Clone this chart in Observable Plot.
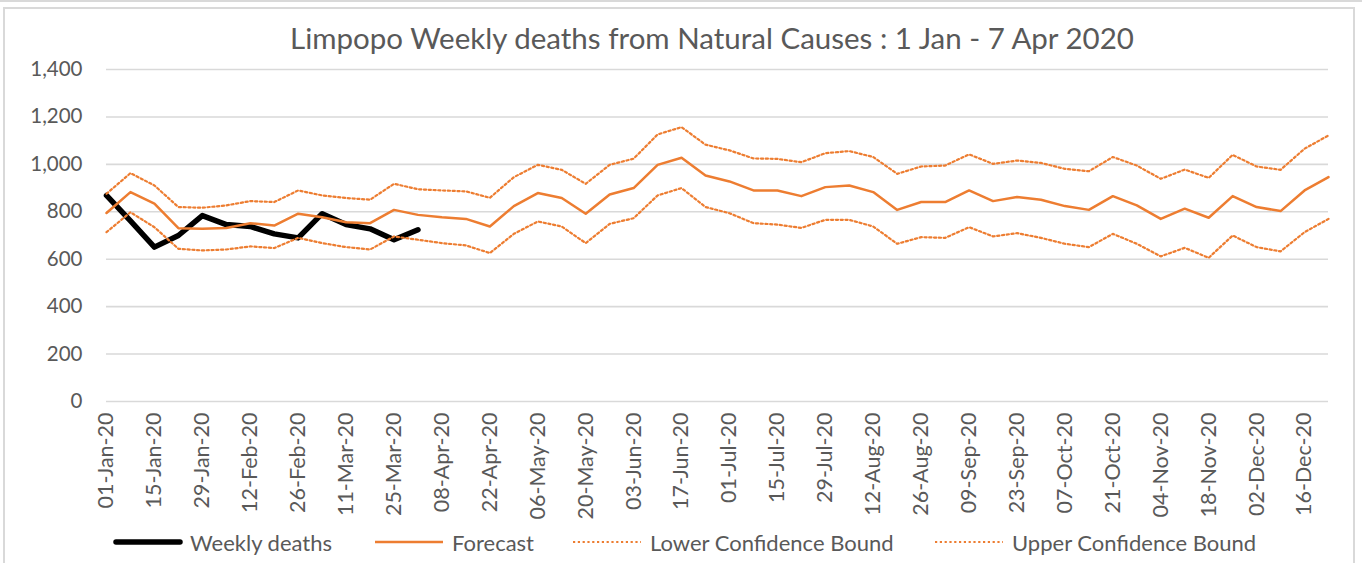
<!DOCTYPE html>
<html>
<head>
<meta charset="utf-8">
<script src="https://cdn.jsdelivr.net/npm/d3@7"></script>
<script src="https://cdn.jsdelivr.net/npm/@observablehq/plot@0.6"></script>
<style>
  html, body { margin: 0; padding: 0; background: #fff; }
  #wrap { position: relative; width: 1362px; height: 563px; overflow: hidden; font-family: Lato, "Open Sans", sans-serif; color: #595959; }
  #topline { position: absolute; left: 0; top: 0; width: 1362px; height: 2px; background: #d9d9d9; }
  #frame { position: absolute; left: 3px; top: 7px; width: 1352px; height: 600px; border: 2px solid #d9d9d9; box-sizing: border-box; }
  #title { position: relative; height: 62px; }
  #title span { position: absolute; left: 712px; top: 23px; transform: translateX(-50%); font-size: 29.5px; white-space: nowrap; line-height: 1; }
  #chart { position: relative; height: 465px; }
  #legend { position: relative; height: 36px; }
  .item { position: absolute; top: 0; height: 30px; display: flex; align-items: center; font-size: 22px; white-space: nowrap; }
  .item svg { margin-right: 7px; }
</style>
</head>
<body>
<div id="wrap">
  <div id="topline"></div>
  <div id="frame"></div>
  <div id="title"><span>Limpopo Weekly deaths from Natural Causes : 1 Jan - 7 Apr 2020</span></div>
  <div id="chart"></div>
  <div id="legend"></div>
</div>
<script>
const weeks = [
  "01-Jan-20","08-Jan-20","15-Jan-20","22-Jan-20","29-Jan-20","05-Feb-20","12-Feb-20","19-Feb-20","26-Feb-20",
  "04-Mar-20","11-Mar-20","18-Mar-20","25-Mar-20","01-Apr-20","08-Apr-20","15-Apr-20","22-Apr-20","29-Apr-20",
  "06-May-20","13-May-20","20-May-20","27-May-20","03-Jun-20","10-Jun-20","17-Jun-20","24-Jun-20","01-Jul-20",
  "08-Jul-20","15-Jul-20","22-Jul-20","29-Jul-20","05-Aug-20","12-Aug-20","19-Aug-20","26-Aug-20","02-Sep-20",
  "09-Sep-20","16-Sep-20","23-Sep-20","30-Sep-20","07-Oct-20","14-Oct-20","21-Oct-20","28-Oct-20","04-Nov-20",
  "11-Nov-20","18-Nov-20","25-Nov-20","02-Dec-20","09-Dec-20","16-Dec-20","23-Dec-20"
];
const weeklyDeaths = [869, 762, 651, 700, 784, 746, 738, 707, 690, 792, 746, 728, 682, 724];
const forecast = [
  795, 883, 834, 731, 728, 732, 752, 742, 792, 777, 756, 752, 808, 787,
  777, 770, 738, 824, 879, 858, 792, 873, 900, 998, 1028, 953, 928, 890,
  890, 866, 904, 911, 883, 808, 841, 841, 890, 845, 862, 851,
  824, 808, 866, 827, 770, 813, 775, 866, 820, 803, 890, 946
];
const lowerBound = [
  714, 798, 735, 644, 637, 641, 654, 647, 690, 668, 651, 641, 696, 682,
  668, 658, 626, 707, 759, 738, 668, 749, 773, 869, 900, 820, 794, 752,
  746, 732, 766, 766, 738, 665, 693, 690, 735, 696, 710, 690,
  665, 651, 707, 665, 612, 648, 606, 700, 651, 633, 714, 770
];
const upperBound = [
  876, 963, 911, 820, 817, 827, 845, 841, 890, 869, 858, 851, 918, 895,
  890, 886, 859, 946, 998, 977, 918, 998, 1024, 1126, 1157, 1083, 1059, 1025,
  1023, 1009, 1047, 1056, 1031, 960, 991, 995, 1042, 1002, 1016, 1006,
  981, 971, 1031, 995, 939, 978, 943, 1040, 991, 977, 1066, 1122
];
const yTicks = [0, 200, 400, 600, 800, 1000, 1200, 1400];
const xTicks = weeks.filter((d, i) => i % 2 === 0);
const seriesNames = ["Weekly deaths", "Forecast", "Lower Confidence Bound", "Upper Confidence Bound"];

const orange = "#ED7D31";
const dots = "2.2,2.6";
const rows = (vals) => vals.map((v, i) => ({week: weeks[i], value: v}));

const plot = Plot.plot({
  width: 1362,
  height: 465,
  marginTop: 7,
  marginBottom: 126,
  marginLeft: 106,
  marginRight: 34,
  style: {fontFamily: "Lato, 'Open Sans', sans-serif", fontSize: "20px", color: "#595959", background: "transparent", overflow: "visible"},
  x: {type: "point", domain: weeks, padding: 0, label: null},
  y: {domain: [0, 1400], label: null},
  marks: [
    Plot.gridY(yTicks, {stroke: "#d9d9d9", strokeOpacity: 1, strokeWidth: 1.6}),
    Plot.axisY({ticks: yTicks, tickSize: 0, tickPadding: 24, tickFormat: d3.format(","), label: null, fontSize: 20.5}),
    Plot.axisX({ticks: xTicks, tickSize: 0, tickPadding: 11, tickRotate: -90, label: null, fontSize: 21.5}),
    Plot.line(rows(weeklyDeaths), {x: "week", y: "value", stroke: "#000", strokeWidth: 5.5, strokeLinejoin: "round", strokeLinecap: "round"}),
    Plot.line(rows(forecast), {x: "week", y: "value", stroke: orange, strokeWidth: 2.5, strokeLinejoin: "round"}),
    Plot.line(rows(lowerBound), {x: "week", y: "value", stroke: orange, strokeWidth: 2.2, strokeDasharray: dots}),
    Plot.line(rows(upperBound), {x: "week", y: "value", stroke: orange, strokeWidth: 2.2, strokeDasharray: dots})
  ]
});
document.getElementById("chart").appendChild(plot);

// legend
const legendItems = [
  {name: seriesNames[0], left: 113, stroke: "#000", width: 5.5, dash: null, cap: "round"},
  {name: seriesNames[1], left: 375, stroke: orange, width: 2.5, dash: null, cap: "butt"},
  {name: seriesNames[2], left: 573, stroke: orange, width: 2.2, dash: dots, cap: "butt"},
  {name: seriesNames[3], left: 935, stroke: orange, width: 2.2, dash: dots, cap: "butt"}
];
const legend = d3.select("#legend");
for (const it of legendItems) {
  const div = legend.append("div").attr("class", "item").style("left", it.left + "px");
  const s = div.append("svg").attr("width", 70).attr("height", 10);
  s.append("line").attr("x1", it.cap === "round" ? 3 : 0).attr("x2", it.cap === "round" ? 67 : 68)
    .attr("y1", 5).attr("y2", 5)
    .attr("stroke", it.stroke).attr("stroke-width", it.width)
    .attr("stroke-linecap", it.cap)
    .attr("stroke-dasharray", it.dash);
  div.append("span").text(it.name);
}
</script>
</body>
</html>
